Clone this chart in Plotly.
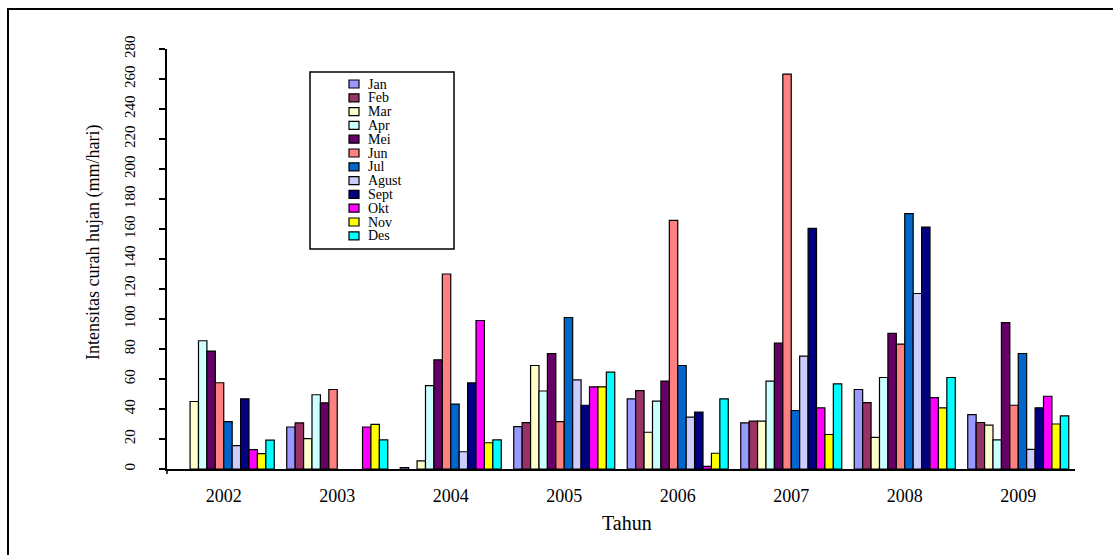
import plotly.graph_objects as go

# Rainfall intensity per month, grouped by year
years = ["2002", "2003", "2004", "2005", "2006", "2007", "2008", "2009"]
months = ["Jan", "Feb", "Mar", "Apr", "Mei", "Jun", "Jul", "Agust", "Sept", "Okt", "Nov", "Des"]
colors = ["#9999FF", "#993366", "#FFFFCC", "#CCFFFF", "#660066", "#FF8080",
          "#0066CC", "#CCCCFF", "#000080", "#FF00FF", "#FFFF00", "#00FFFF"]

jan = [None, 28, 1, 28.3, 46.8, 30.8, 53, 36.3]
feb = [None, 30.7, None, 30.9, 52.3, 31.9, 44.3, 31]
mar = [45, 20.3, 5.4, 69, 24.5, 31.9, 21.1, 29.2]
apr = [85.5, 49.5, 55.6, 52, 45.2, 58.6, 61, 19.4]
mei = [78.6, 44.1, 72.8, 77, 58.6, 84, 90.4, 97.6]
jun = [57.5, 53, 130, 31.6, 165.8, 263.3, 83.3, 42.5]
jul = [31.6, None, 43.3, 101, 69, 39, 170.2, 77]
agust = [15.6, None, 11.5, 59.4, 34.6, 75.3, 117, 13.1]
sept = [46.8, None, 57.4, 42.5, 37.9, 160.4, 161.3, 40.8]
okt = [12.9, 28, 99, 54.8, 1.8, 40.8, 47.6, 48.5]
nov = [10.2, 29.8, 17.5, 54.8, 10.5, 23, 40.8, 30]
des = [19.2, 19.4, 19.4, 64.6, 46.8, 56.8, 61, 35.4]

series = [jan, feb, mar, apr, mei, jun, jul, agust, sept, okt, nov, des]

y_ticks = list(range(0, 281, 20))

W, H = 1113, 555
L, R, T, B = 167, 38, 49, 86
PW, PH = W - L - R, H - T - B

SERIF = "Liberation Serif, Times New Roman, serif"


def px(xp):
    return (xp - L) / PW


def py(yp):
    return (T + PH - yp) / PH


fig = go.Figure()
for name, vals, col in zip(months, series, colors):
    fig.add_trace(go.Bar(
        x=years, y=vals, name=name,
        marker=dict(color=col, line=dict(color="#000000", width=1.2)),
        showlegend=False,
    ))

shapes = []
annotations = []

# outer frame
shapes.append(dict(type="rect", xref="paper", yref="paper",
                   x0=px(8), y0=py(570), x1=px(1130), y1=py(9),
                   line=dict(color="#000000", width=2), fillcolor="rgba(0,0,0,0)",
                   layer="below"))
# short extension of the value axis below zero
shapes.append(dict(type="line", xref="paper", yref="paper",
                   x0=0, x1=0, y0=py(474), y1=0,
                   line=dict(color="#000000", width=1.5)))

# legend box
shapes.append(dict(type="rect", xref="paper", yref="paper",
                   x0=px(310), y0=py(249), x1=px(454), y1=py(72),
                   line=dict(color="#000000", width=1.5), fillcolor="#FFFFFF",
                   layer="above"))
for i, (name, col) in enumerate(zip(months, colors)):
    yc = 84 + i * 13.8
    shapes.append(dict(type="rect", xref="paper", yref="paper",
                       x0=px(349), x1=px(359), y0=py(yc + 4), y1=py(yc - 4),
                       line=dict(color="#000000", width=1.2), fillcolor=col,
                       layer="above"))
    annotations.append(dict(text=name, xref="paper", yref="paper",
                            x=px(366), y=py(yc), xanchor="left", yanchor="middle",
                            showarrow=False,
                            font=dict(family=SERIF, size=14, color="#000000")))

# axis titles
annotations.append(dict(text="Intensitas curah hujan (mm/hari)", xref="paper", yref="paper",
                        x=px(93), y=py(243), textangle=-90, showarrow=False,
                        xanchor="center", yanchor="middle",
                        font=dict(family=SERIF, size=18, color="#000000")))
annotations.append(dict(text="Tahun", xref="paper", yref="paper",
                        x=px(627), y=py(523), showarrow=False,
                        xanchor="center", yanchor="middle",
                        font=dict(family=SERIF, size=20, color="#000000")))

fig.update_layout(
    width=W, height=H,
    margin=dict(l=L, r=R, t=T, b=B, pad=0),
    paper_bgcolor="#FFFFFF", plot_bgcolor="#FFFFFF",
    barmode="group", bargap=0.11, bargroupgap=0,
    shapes=shapes, annotations=annotations,
    xaxis=dict(
        type="category", showgrid=False, zeroline=False,
        showline=True, linecolor="#000000", linewidth=1.5,
        ticks="", ticklabelstandoff=10,
        tickfont=dict(family=SERIF, size=18, color="#000000"),
    ),
    yaxis=dict(
        range=[0, 280], tickvals=y_ticks, showgrid=False, zeroline=False,
        showline=True, linecolor="#000000", linewidth=1.5,
        ticks="outside", ticklen=6, tickwidth=1.5, tickcolor="#000000",
        tickangle=-90, ticklabelstandoff=18,
        tickfont=dict(family=SERIF, size=15, color="#000000"),
    ),
)

fig.write_html("out.html")
